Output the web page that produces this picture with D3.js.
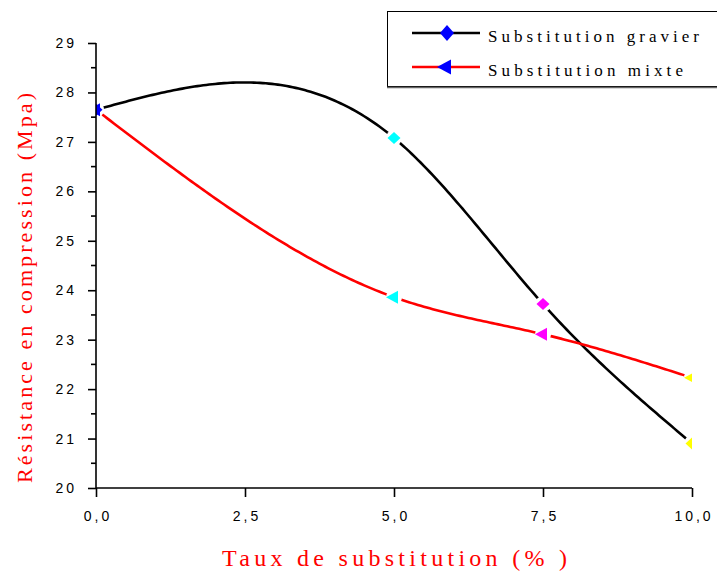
<!DOCTYPE html>
<html>
<head>
<meta charset="utf-8">
<script src="https://cdn.jsdelivr.net/npm/d3@7"></script>
<style>
  html, body { margin: 0; padding: 0; background: #fff; }
  svg { display: block; }
</style>
</head>
<body>
<svg id="chart" width="717" height="574"></svg>
<script>
// Substitution rate (%) and compressive strength (MPa)
const rates = [0, 5, 7.5, 10];
const gravier = [27.65, 27.08, 23.72, 20.9];
const mixte = [27.65, 23.86, 23.11, 22.23];
const pointColors = ["#0000ff", "#00ffff", "#ff00ff", "#ffff00"];
const xTicks = [0, 2.5, 5, 7.5, 10];
const yTicks = [20, 21, 22, 23, 24, 25, 26, 27, 28, 29];
const yMinorTicks = [20.5, 21.5, 22.5, 23.5, 24.5, 25.5, 26.5, 27.5, 28.5];
const seriesNames = ["Substitution gravier", "Substitution mixte"];

const svg = d3.select("#chart");
const x = d3.scaleLinear().domain([0, 10]).range([96, 692]);
const y = d3.scaleLinear().domain([20, 29]).range([488, 43]);

// Natural cubic spline through the measured points (in data space)
function naturalSpline(xs, ys) {
  const n = xs.length;
  const h = [], a = [], b = [], c = [], r = [];
  for (let i = 0; i < n - 1; i++) h.push(xs[i + 1] - xs[i]);
  const M = new Array(n).fill(0);
  const m = n - 2;
  for (let i = 1; i <= m; i++) {
    a.push(h[i - 1]);
    b.push(2 * (h[i - 1] + h[i]));
    c.push(h[i]);
    r.push(6 * ((ys[i + 1] - ys[i]) / h[i] - (ys[i] - ys[i - 1]) / h[i - 1]));
  }
  for (let i = 1; i < m; i++) {
    const w = a[i] / b[i - 1];
    b[i] -= w * c[i - 1];
    r[i] -= w * r[i - 1];
  }
  const sol = new Array(m);
  for (let i = m - 1; i >= 0; i--) {
    sol[i] = (r[i] - (i < m - 1 ? c[i] * sol[i + 1] : 0)) / b[i];
  }
  for (let i = 0; i < m; i++) M[i + 1] = sol[i];
  return function (t) {
    let k = 0;
    while (k < n - 2 && t > xs[k + 1]) k++;
    const hk = h[k], A = xs[k + 1] - t, B = t - xs[k];
    return M[k] * A * A * A / (6 * hk) + M[k + 1] * B * B * B / (6 * hk)
      + (ys[k] / hk - M[k] * hk / 6) * A + (ys[k + 1] / hk - M[k + 1] * hk / 6) * B;
  };
}

function curvePoints(values) {
  const f = naturalSpline(rates, values);
  return d3.range(0, 10.0001, 0.05).map(t => [t, f(t)]);
}

const line = d3.line().x(d => x(d[0])).y(d => y(d[1]));

const defs = svg.append("defs");
defs.append("clipPath").attr("id", "plotClip")
  .append("rect").attr("x", 96).attr("y", 43).attr("width", 596).attr("height", 445);

// gaps in the lines around every marker
function addMask(id, values) {
  const mask = defs.append("mask").attr("id", id).attr("maskUnits", "userSpaceOnUse");
  mask.append("rect").attr("x", 0).attr("y", 0).attr("width", 717).attr("height", 574).attr("fill", "#fff");
  mask.selectAll("circle").data(values).join("circle")
    .attr("cx", (d, i) => x(rates[i])).attr("cy", d => y(d)).attr("r", 8).attr("fill", "#000");
}
addMask("maskG", gravier);
addMask("maskM", mixte);

const plot = svg.append("g").attr("clip-path", "url(#plotClip)");

plot.append("path").attr("d", line(curvePoints(gravier)))
  .attr("fill", "none").attr("stroke", "#000").attr("stroke-width", 2.6)
  .attr("mask", "url(#maskG)");
plot.append("path").attr("d", line(curvePoints(mixte)))
  .attr("fill", "none").attr("stroke", "#ff0000").attr("stroke-width", 2.6)
  .attr("mask", "url(#maskM)");

const diamond = "M0,-6L6.5,0L0,6L-6.5,0Z";
const triLeft = "M-8,0L4,-6.5L4,6.5Z";
const legendDiamond = "M0,-8L7,0L0,8L-7,0Z";
const legendTri = "M-10,0L4,-7.5L4,7.5Z";

plot.selectAll(".mg").data(gravier).join("path")
  .attr("d", diamond)
  .attr("transform", (d, i) => `translate(${x(rates[i])},${y(d)})`)
  .attr("fill", (d, i) => pointColors[i]);
plot.selectAll(".mm").data(mixte).join("path")
  .attr("d", triLeft)
  .attr("transform", (d, i) => `translate(${x(rates[i])},${y(d)})`)
  .attr("fill", (d, i) => pointColors[i]);

// axes
const fmtX = d => d3.format(".1f")(d).replace(".", ",");
const xAxis = svg.append("g").attr("transform", "translate(0,488)")
  .call(d3.axisBottom(x).tickValues(xTicks).tickFormat(fmtX).tickSize(9).tickPadding(14));
xAxis.select(".domain").attr("d", "M96,0H692").attr("stroke-width", 1.6);
xAxis.selectAll(".tick line").attr("stroke-width", 1.6);
xAxis.selectAll("text").attr("font-family", "'Liberation Sans', Arial, sans-serif")
  .attr("font-size", 14).attr("letter-spacing", "3px").attr("fill", "#000")
  .attr("dx", "1.5px");

const yAxis = svg.append("g").attr("transform", "translate(96,0)")
  .call(d3.axisLeft(y).tickValues(yTicks).tickFormat(d3.format("d")).tickSize(8).tickPadding(11));
yAxis.select(".domain").attr("d", "M0,488V43").attr("stroke-width", 1.6);
yAxis.selectAll(".tick line").attr("stroke-width", 1.6);
yAxis.selectAll("text").attr("font-family", "'Liberation Sans', Arial, sans-serif")
  .attr("font-size", 14).attr("letter-spacing", "3px").attr("fill", "#000");

svg.append("g").selectAll("line").data(yMinorTicks).join("line")
  .attr("x1", 91).attr("x2", 96).attr("y1", d => y(d)).attr("y2", d => y(d))
  .attr("stroke", "#000").attr("stroke-width", 1.6);

// axis titles
svg.append("text")
  .attr("transform", "translate(32,288) rotate(-90)")
  .attr("text-anchor", "middle")
  .attr("font-family", "'Liberation Serif', 'Times New Roman', serif")
  .attr("font-size", 22).attr("fill", "#ff0000")
  .attr("textLength", 390).attr("lengthAdjust", "spacing")
  .text("Résistance en compression (Mpa)");

svg.append("text")
  .attr("x", 394.5).attr("y", 566)
  .attr("text-anchor", "middle")
  .attr("font-family", "'Liberation Serif', 'Times New Roman', serif")
  .attr("font-size", 24).attr("fill", "#ff0000")
  .attr("textLength", 345).attr("lengthAdjust", "spacing")
  .text("Taux de substitution (% )");

// legend
const legend = svg.append("g");
legend.append("rect").attr("x", 387.5).attr("y", 11.5).attr("width", 340).attr("height", 75)
  .attr("fill", "#fff").attr("stroke", "#000").attr("stroke-width", 1);
legend.append("line").attr("x1", 387).attr("x2", 717).attr("y1", 87.5).attr("y2", 87.5)
  .attr("stroke", "#666").attr("stroke-width", 1.5);

const legendRows = [
  { name: seriesNames[0], color: "#000", shape: legendDiamond, y: 33, len: 211 },
  { name: seriesNames[1], color: "#ff0000", shape: legendTri, y: 67, len: 195 }
];
legendRows.forEach(r => {
  legend.append("line").attr("x1", 412).attr("x2", 480).attr("y1", r.y).attr("y2", r.y)
    .attr("stroke", r.color).attr("stroke-width", 2.6);
  legend.append("path").attr("d", r.shape)
    .attr("transform", `translate(447,${r.y})`).attr("fill", "#0000ff");
  legend.append("text").attr("x", 488).attr("y", r.y + 9)
    .attr("font-family", "'Liberation Serif', 'Times New Roman', serif")
    .attr("font-size", 17).attr("fill", "#000")
    .attr("textLength", r.len).attr("lengthAdjust", "spacing")
    .text(r.name);
});
</script>
</body>
</html>
